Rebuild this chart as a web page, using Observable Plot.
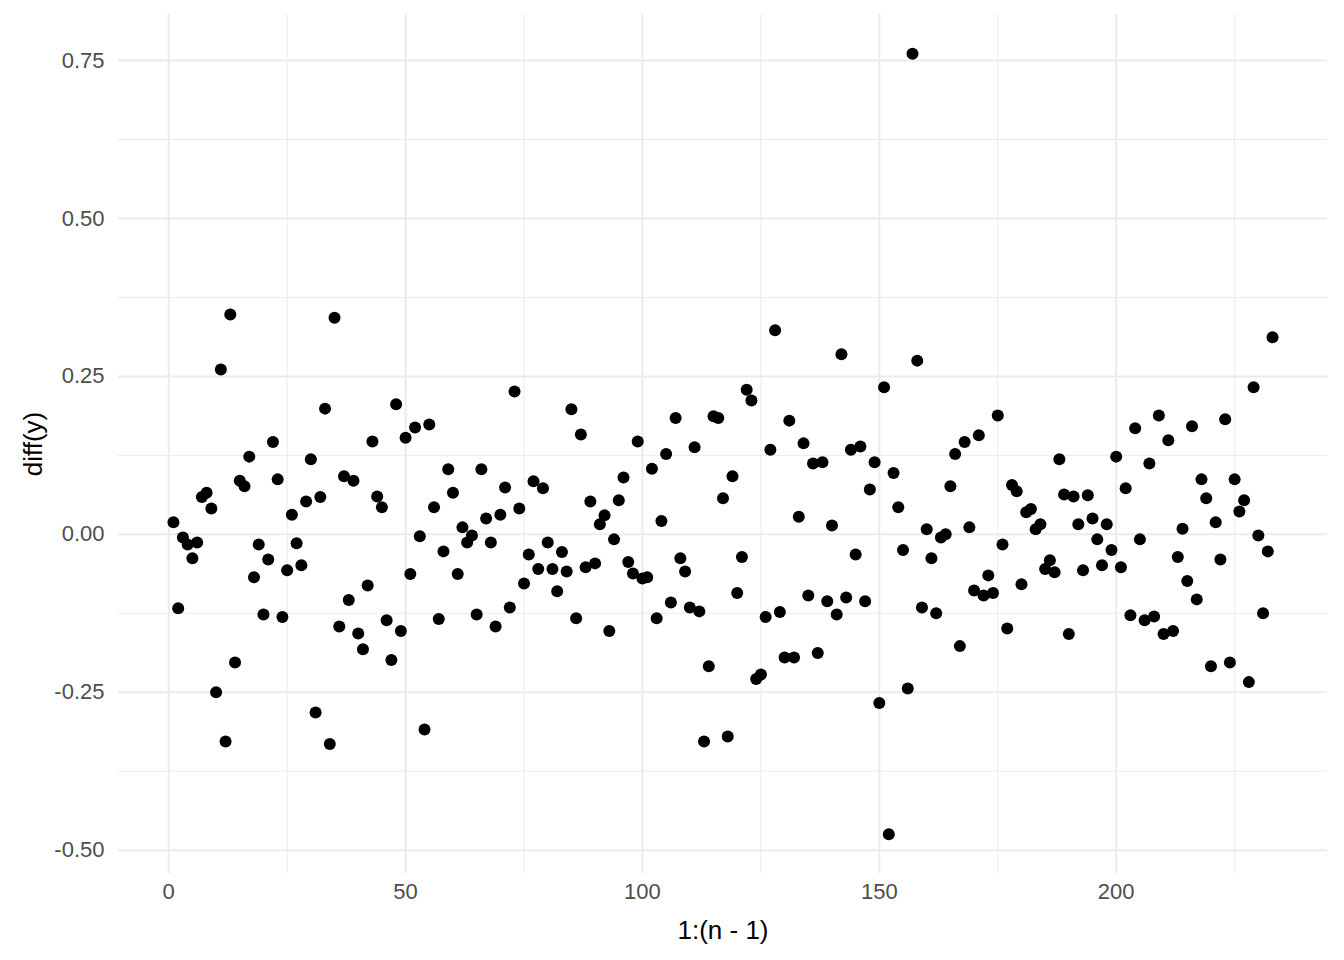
<!DOCTYPE html>
<html>
<head>
<meta charset="utf-8">
<script src="https://cdn.jsdelivr.net/npm/d3@7"></script>
<script src="https://cdn.jsdelivr.net/npm/@observablehq/plot@0.6"></script>
<style>
  html, body { margin: 0; padding: 0; background: #fff; }
  #chart { width: 1344px; height: 960px; }
</style>
</head>
<body>
<div id="chart"></div>
<script>
// diff(y) values for index 1..233
const diffY = [
  0.019, -0.117, -0.005, -0.016, -0.038, -0.013, 0.059, 0.066, 0.041, -0.250,
  0.261, -0.328, 0.348, -0.203, 0.085, 0.076, 0.123, -0.068, -0.016, -0.127,
  -0.040, 0.146, 0.087, -0.131, -0.057, 0.031, -0.014, -0.049, 0.052, 0.119,
  -0.282, 0.059, 0.199, -0.332, 0.343, -0.146, 0.092, -0.104, 0.085, -0.157,
  -0.182, -0.081, 0.147, 0.060, 0.043, -0.136, -0.199, 0.206, -0.153, 0.153,
  -0.063, 0.169, -0.003, -0.309, 0.174, 0.043, -0.134, -0.027, 0.103, 0.066,
  -0.063, 0.011, -0.013, -0.002, -0.127, 0.103, 0.025, -0.013, -0.146, 0.031,
  0.074, -0.116, 0.226, 0.041, -0.078, -0.032, 0.084, -0.055, 0.073, -0.013,
  -0.055, -0.090, -0.028, -0.059, 0.198, -0.133, 0.158, -0.052, 0.052, -0.046,
  0.016, 0.030, -0.153, -0.008, 0.054, 0.090, -0.044, -0.062, 0.147, -0.070,
  -0.068, 0.104, -0.133, 0.021, 0.127, -0.108, 0.184, -0.038, -0.059, -0.116,
  0.138, -0.122, -0.328, -0.209, 0.187, 0.184, 0.057, -0.320, 0.092, -0.093,
  -0.036, 0.229, 0.212, -0.229, -0.222, -0.131, 0.134, 0.323, -0.123, -0.195,
  0.180, -0.195, 0.028, 0.144, -0.097, 0.112, -0.188, 0.114, -0.106, 0.014,
  -0.127, 0.285, -0.100, 0.134, -0.032, 0.139, -0.106, 0.071, 0.114, -0.267,
  0.233, -0.475, 0.097, 0.043, -0.025, -0.244, 0.761, 0.275, -0.116, 0.008,
  -0.038, -0.125, -0.005, 0.000, 0.076, 0.127, -0.177, 0.146, 0.011, -0.089,
  0.157, -0.097, -0.065, -0.093, 0.188, -0.016, -0.149, 0.078, 0.068, -0.079,
  0.035, 0.040, 0.008, 0.016, -0.055, -0.041, -0.060, 0.119, 0.063, -0.158,
  0.060, 0.016, -0.057, 0.062, 0.025, -0.008, -0.049, 0.016, -0.025, 0.123,
  -0.052, 0.073, -0.128, 0.168, -0.008, -0.136, 0.112, -0.130, 0.188, -0.158,
  0.149, -0.153, -0.036, 0.009, -0.074, 0.171, -0.103, 0.087, 0.057, -0.209,
  0.019, -0.040, 0.182, -0.203, 0.087, 0.036, 0.054, -0.234, 0.233, -0.002,
  -0.125, -0.027, 0.312
];
const index = diffY.map((_, i) => i + 1);

const xMajor = [0, 50, 100, 150, 200];
const xMinor = [25, 75, 125, 175, 225];
const yMajor = [-0.5, -0.25, 0, 0.25, 0.5, 0.75];
const yMinor = [-0.375, -0.125, 0.125, 0.375, 0.625];
const xTitle = "1:(n - 1)";
const yTitle = "diff(y)";

const points = index.map((x, i) => ({x, y: diffY[i]}));

const chart = Plot.plot({
  width: 1344,
  height: 960,
  marginLeft: 118,
  marginRight: 17,
  marginTop: 14,
  marginBottom: 87,
  style: {fontFamily: "'Liberation Sans', Arial, sans-serif", background: "#fff"},
  x: {domain: [-10.6, 244.6], axis: null},
  y: {domain: [-0.537, 0.823], axis: null},
  marks: [
    Plot.ruleX(xMinor, {stroke: "#EBEBEB", strokeWidth: 1}),
    Plot.ruleY(yMinor, {stroke: "#EBEBEB", strokeWidth: 1}),
    Plot.ruleX(xMajor, {stroke: "#EBEBEB", strokeWidth: 2}),
    Plot.ruleY(yMajor, {stroke: "#EBEBEB", strokeWidth: 2}),
    Plot.axisX(xMajor, {tickSize: 0, tickPadding: 10, fontSize: 22, color: "#4D4D4D", label: null, tickFormat: d => String(d)}),
    Plot.axisY(yMajor, {tickSize: 0, tickPadding: 14, fontSize: 22, color: "#4D4D4D", label: null, tickFormat: d => d.toFixed(2)}),
    Plot.dot(points, {x: "x", y: "y", r: 6, fill: "#000", stroke: null}),
    Plot.text([xTitle], {frameAnchor: "bottom", dy: 57, lineAnchor: "middle", textAnchor: "middle", fontSize: 26, fill: "#000", text: d => d}),
    Plot.text([yTitle], {frameAnchor: "left", dx: -85, rotate: -90, textAnchor: "middle", lineAnchor: "middle", fontSize: 26, fill: "#000", text: d => d})
  ]
});
document.getElementById("chart").appendChild(chart);
</script>
</body>
</html>
